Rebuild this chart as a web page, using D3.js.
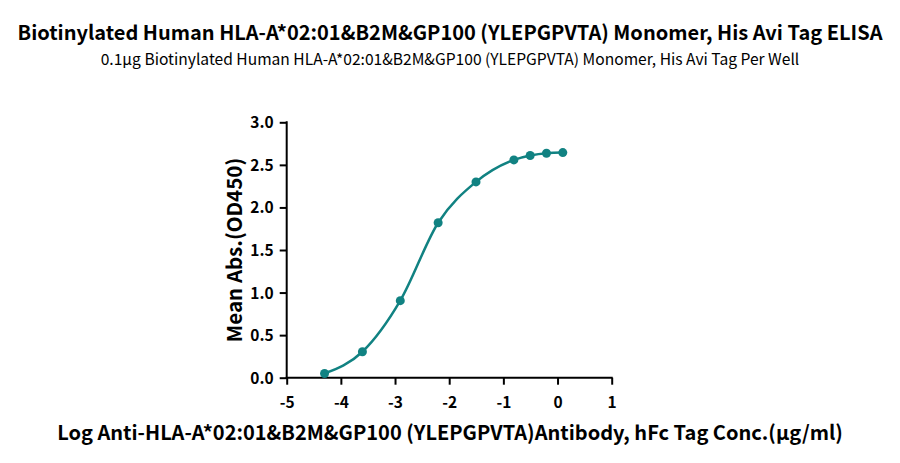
<!DOCTYPE html>
<html><head><meta charset="utf-8">
<script src="https://cdn.jsdelivr.net/npm/d3@7/dist/d3.min.js"></script>
<style>body{margin:0;background:#fff;} svg{display:block;}</style>
</head><body>
<script>
const titleText = "Biotinylated Human HLA-A*02:01&B2M&GP100 (YLEPGPVTA) Monomer, His Avi Tag ELISA";
const subtitleText = "0.1μg Biotinylated Human HLA-A*02:01&B2M&GP100 (YLEPGPVTA) Monomer, His Avi Tag Per Well";
const xTitle = "Log Anti-HLA-A*02:01&B2M&GP100 (YLEPGPVTA)Antibody, hFc Tag Conc.(μg/ml)";
const yTitle = "Mean Abs.(OD450)";
const logConc = [-4.301, -3.602, -2.903, -2.204, -1.505, -0.806, -0.505, -0.204, 0.097];
const od450 = [0.05, 0.305, 0.905, 1.82, 2.30, 2.558, 2.61, 2.637, 2.644];
const xTicks = [-5, -4, -3, -2, -1, 0, 1];
const yTicks = [0.0, 0.5, 1.0, 1.5, 2.0, 2.5, 3.0];

const W = 900, H = 463, color = "#118282";
const font = "'Noto Sans CJK SC', 'Noto Sans', sans-serif";
const svg = d3.select("body").append("svg").attr("width", W).attr("height", H);

const x = d3.scaleLinear().domain([-5, 1]).range([286.7, 611.7]);
const y = d3.scaleLinear().domain([0, 3]).range([377.7, 122.3]);

svg.append("text").attr("x", 450).attr("y", 40).attr("text-anchor", "middle")
  .attr("font-family", font).attr("font-weight", 700).attr("font-size", 20).text(titleText);
svg.append("text").attr("x", 450).attr("y", 65).attr("text-anchor", "middle")
  .attr("font-family", font).attr("font-weight", 400).attr("font-size", 15.6).text(subtitleText);

const xa = svg.append("g").attr("transform", `translate(0,${y(0)})`)
  .call(d3.axisBottom(x).tickValues(xTicks).tickFormat(d => String(d)).tickSize(7).tickSizeOuter(0));
const ya = svg.append("g").attr("transform", `translate(${x(-5)},0)`)
  .call(d3.axisLeft(y).tickValues(yTicks).tickFormat(d => d.toFixed(1)).tickSize(7).tickSizeOuter(0));
[xa, ya].forEach(g => {
  g.select(".domain").attr("stroke", "#000").attr("stroke-width", 2);
  g.selectAll(".tick line").attr("stroke", "#000").attr("stroke-width", 2);
  g.selectAll(".tick text").attr("font-family", font).attr("font-weight", 700)
    .attr("font-size", 15.5).attr("fill", "#000");
});
xa.selectAll(".tick text").attr("y", 16).attr("dy", "0.9em");
ya.selectAll(".tick text").attr("x", -13).attr("dy", "0.35em");
xa.select(".domain").attr("d", `M${x(-5) - 1},0H${x(1) + 1}`);
ya.select(".domain").attr("d", `M0,${y(0) + 1}V${y(3) - 1}`);

svg.append("text").attr("x", 450).attr("y", 440).attr("text-anchor", "middle")
  .attr("font-family", font).attr("font-weight", 700).attr("font-size", 20).text(xTitle);
svg.append("text").attr("transform", `translate(242,250) rotate(-90)`).attr("text-anchor", "middle")
  .attr("font-family", font).attr("font-weight", 700).attr("font-size", 20.5).text(yTitle);

const pts = logConc.map((v, i) => [v, od450[i]]);
svg.append("path").datum(pts)
  .attr("d", d3.line().x(d => x(d[0])).y(d => y(d[1])).curve(d3.curveMonotoneX))
  .attr("fill", "none").attr("stroke", color).attr("stroke-width", 2.5);
svg.append("g").selectAll("circle").data(pts).join("circle")
  .attr("cx", d => x(d[0])).attr("cy", d => y(d[1])).attr("r", 4.5).attr("fill", color);
</script>
</body></html>
